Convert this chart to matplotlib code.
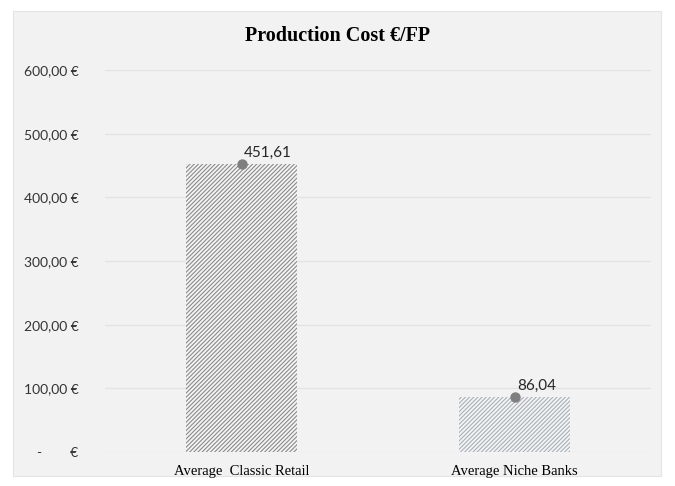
import matplotlib.pyplot as plt
from matplotlib.patches import Rectangle
from matplotlib.ticker import FuncFormatter

categories = ['Average  Classic Retail', 'Average Niche Banks']
cost = [451.61, 86.04]
cost_labels = ['451,61', '86,04']
y_ticks = [0, 100, 200, 300, 400, 500, 600]


def eur(v, _pos=None):
    if v == 0:
        return '-        €'
    return f'{v:.2f}'.replace('.', ',') + ' €'


fig = plt.figure(figsize=(6.75, 4.86), dpi=100)
fig.patch.set_facecolor('white')
# grey chart panel, kept behind the axes
fig.patches.append(Rectangle((13 / 675, 1 - 476 / 486), 648 / 675, 465 / 486,
                             transform=fig.transFigure, facecolor='#f2f2f2',
                             edgecolor='#e4e4e4', linewidth=0.8, zorder=-1))

ax = fig.add_axes([105 / 675, 1 - 452 / 486, 546 / 675, 382 / 486])
ax.set_facecolor('none')
ax.set_xlim(-0.5, 1.5)
ax.set_ylim(0, 600)

plt.rcParams['hatch.linewidth'] = 0.8
hatch_colors = ['#8a8a8a', '#a7b0ba']
for i, (c, v) in enumerate(zip(categories, cost)):
    ax.bar(i, v, width=0.41, facecolor='#f4f4f4', edgecolor=hatch_colors[i],
           hatch='////////', linewidth=0, zorder=2)
ax.scatter(range(len(cost)), cost, s=42, color='#7f7f7f', zorder=4)
for i, (v, lab) in enumerate(zip(cost, cost_labels)):
    ax.text(i + 0.01, v + 7, lab, fontsize=11, family='Lato',
            color='#262626', ha='left', va='bottom', zorder=5)

ax.set_yticks(y_ticks)
ax.yaxis.set_major_formatter(FuncFormatter(eur))
ax.grid(axis='y', color='#e3e3e3', linewidth=1.0, zorder=1)
ax.set_axisbelow(True)
ax.set_xticks(range(len(categories)))
ax.set_xticklabels(categories, family='Liberation Serif', fontsize=10.5)
for lab in ax.get_yticklabels():
    lab.set_family('Lato')
    lab.set_fontsize(10)
    lab.set_color('#333333')
ax.tick_params(axis='both', length=0)
ax.tick_params(axis='y', pad=19)
ax.tick_params(axis='x', pad=9)
for s in ax.spines.values():
    s.set_visible(False)

fig.text(338 / 675, 1 - 36 / 486, 'Production Cost €/FP', family='Liberation Serif',
         fontweight='bold', fontsize=14.5, ha='center', va='center')

fig.savefig('out.png', dpi=100)
